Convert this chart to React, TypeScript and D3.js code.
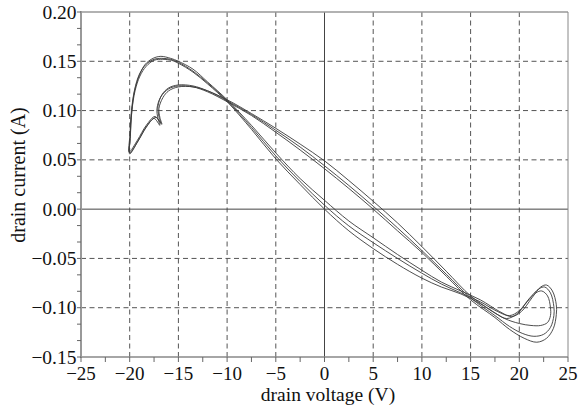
import React from "react";
import * as d3 from "d3";

const W = 588;
const H = 409;

const xTicks = [-25, -20, -15, -10, -5, 0, 5, 10, 15, 20, 25];
const yTicks = [-0.15, -0.1, -0.05, 0.0, 0.05, 0.1, 0.15, 0.2];
const xLabel = "drain voltage (V)";
const yLabel = "drain current (A)";

// Each loop: [drain voltage (V), drain current (A)]
const loop1: [number, number][] = [
  [-20.0, 0.056], [-19.95, 0.072], [-19.8, 0.098], [-19.5, 0.12], [-19.0, 0.136], [-18.4, 0.147],
  [-17.6, 0.153], [-16.8, 0.155], [-15.8, 0.153], [-15.0, 0.15], [-13.5, 0.142], [-12.0, 0.129],
  [-10.0, 0.111], [-7.5, 0.085], [-5.0, 0.057], [-2.5, 0.031], [0, 0.009], [2.5, -0.012],
  [5, -0.029], [7.5, -0.046], [10, -0.062], [12, -0.074], [14, -0.083], [16, -0.092],
  [18, -0.104], [19.2, -0.109], [20.2, -0.104], [21.3, -0.09], [22.2, -0.079], [22.8, -0.077],
  [23.4, -0.083], [23.8, -0.097],
  [23.8, -0.107], [23.5, -0.121], [22.8, -0.131], [21.8, -0.135], [20.5, -0.131], [19.0, -0.122],
  [17.5, -0.11], [15.0, -0.092], [12.5, -0.068], [10, -0.044], [7.5, -0.022], [5, 0.0],
  [2.5, 0.021], [0, 0.041], [-2.5, 0.06], [-5, 0.078], [-7.5, 0.095], [-10, 0.109],
  [-12, 0.119], [-13.5, 0.124], [-15, 0.125], [-16, 0.122], [-16.8, 0.114], [-17.2, 0.102],
  [-17.1, 0.092], [-16.9, 0.085], [-17.5, 0.092], [-18.3, 0.083], [-19.2, 0.068],
];

const loop2: [number, number][] = [
  [-20.05, 0.058], [-19.98, 0.075], [-19.82, 0.1], [-19.5, 0.121], [-19.0, 0.137], [-18.3, 0.147],
  [-17.5, 0.152], [-16.7, 0.153], [-15.8, 0.152], [-15.0, 0.149], [-13.5, 0.14], [-12.0, 0.128],
  [-10.0, 0.11], [-7.5, 0.083], [-5.0, 0.054], [-2.5, 0.028], [0, 0.004], [2.5, -0.017],
  [5, -0.034], [7.5, -0.05], [10, -0.065], [12, -0.076], [14, -0.085], [16, -0.094],
  [17.8, -0.104], [19.0, -0.108], [20.0, -0.103], [21.0, -0.091], [22.0, -0.081], [22.6, -0.079],
  [23.2, -0.085], [23.55, -0.099],
  [23.55, -0.108], [23.2, -0.12], [22.5, -0.127], [21.5, -0.129], [20.3, -0.126], [19.0, -0.119],
  [17.5, -0.108], [15, -0.09], [12.5, -0.066], [10, -0.042], [7.5, -0.019], [5, 0.003],
  [2.5, 0.024], [0, 0.044], [-2.5, 0.063], [-5, 0.08], [-7.5, 0.096], [-10, 0.11],
  [-12, 0.12], [-13.5, 0.125], [-15, 0.126], [-16, 0.123], [-16.7, 0.116], [-17.1, 0.104],
  [-17.0, 0.094], [-16.8, 0.087], [-17.4, 0.094], [-18.3, 0.085], [-19.2, 0.07],
];

const loop3: [number, number][] = [
  [-20.0, 0.057], [-19.93, 0.074], [-19.78, 0.099], [-19.45, 0.12], [-18.95, 0.135], [-18.3, 0.145],
  [-17.5, 0.151], [-16.6, 0.152], [-15.7, 0.151], [-15, 0.148], [-13.5, 0.139], [-12, 0.127],
  [-10, 0.109], [-7.5, 0.081], [-5, 0.051], [-2.5, 0.025], [0, 0.0], [2.5, -0.022],
  [5, -0.04], [7.5, -0.056], [10, -0.07], [12, -0.079], [14, -0.086], [16, -0.096],
  [17.6, -0.106], [18.7, -0.111], [19.8, -0.106], [20.8, -0.094], [21.7, -0.085], [22.3, -0.083],
  [22.9, -0.088], [23.2, -0.1],
  [23.2, -0.108], [22.9, -0.115], [22.2, -0.118], [21.2, -0.118], [20.0, -0.116], [18.5, -0.111],
  [17.0, -0.102], [15, -0.088], [12.5, -0.063], [10, -0.038], [7.5, -0.014], [5, 0.008],
  [2.5, 0.029], [0, 0.049], [-2.5, 0.066], [-5, 0.082], [-7.5, 0.097], [-10, 0.111],
  [-12, 0.12], [-13.5, 0.124], [-15, 0.124], [-16, 0.12], [-16.6, 0.113], [-17.0, 0.102],
  [-16.9, 0.093], [-16.7, 0.086], [-17.3, 0.093], [-18.2, 0.085], [-19.1, 0.07],
];

const loops = [loop1, loop2, loop3];

export default function App() {
  const left = 81, right = 568, top = 12, bottom = 357;
  const x = d3.scaleLinear().domain([-25, 25]).range([left, right]);
  const y = d3.scaleLinear().domain([-0.15, 0.2]).range([bottom, top]);

  const line = d3
    .line<[number, number]>()
    .x((d) => x(d[0]))
    .y((d) => y(d[1]))
    .curve(d3.curveCatmullRomClosed.alpha(0.5));

  const xMinor = d3.range(-25, 25.01, 2.5);
  const yMinor = d3.range(0, 22).map((k) => -0.15 + (k * 0.05) / 3);
  const font = "'Liberation Serif', 'Times New Roman', serif";
  const fmtY = (v: number) => {
    const s = Math.abs(v).toFixed(2);
    return v < -1e-9 ? "\u2212" + s : s;
  };
  const fmtX = (v: number) => (v < 0 ? "\u2212" + Math.abs(v) : String(v));

  return (
    <svg
      width={W}
      height={H}
      style={{ position: "absolute", left: 0, top: 0, background: "#fff" }}
    >
      {/* grid */}
      {xTicks
        .filter((t) => t !== 0 && t !== -25 && t !== 25)
        .map((t) => (
          <line key={"gx" + t} x1={x(t)} x2={x(t)} y1={top} y2={bottom} stroke="#555" strokeWidth={1} strokeDasharray="5,3.5" />
        ))}
      {yTicks
        .filter((t) => Math.abs(t) > 1e-9 && t !== -0.15 && t !== 0.2)
        .map((t) => (
          <line key={"gy" + t} x1={left} x2={right} y1={y(t)} y2={y(t)} stroke="#555" strokeWidth={1} strokeDasharray="5,3.5" />
        ))}
      {/* zero lines */}
      <line x1={x(0)} x2={x(0)} y1={top} y2={bottom} stroke="#444" strokeWidth={1} />
      <line x1={left} x2={right} y1={y(0)} y2={y(0)} stroke="#444" strokeWidth={1} />
      {/* frame */}
      <line x1={left} x2={right} y1={top} y2={top} stroke="#999" strokeWidth={1.5} />
      <line x1={right} x2={right} y1={top} y2={bottom} stroke="#888" strokeWidth={1} />
      <line x1={left} x2={right} y1={bottom} y2={bottom} stroke="#888" strokeWidth={1.5} />
      <line x1={left} x2={left} y1={top - 1} y2={bottom + 1} stroke="#999" strokeWidth={2} />
      {/* ticks */}
      {xMinor.map((t, i) => (
        <line key={"tx" + i} x1={x(t)} x2={x(t)} y1={bottom} y2={bottom + 5} stroke="#666" strokeWidth={1} />
      ))}
      {yMinor.map((t, i) => (
        <line key={"ty" + i} x1={left - 4} x2={left} y1={y(t)} y2={y(t)} stroke="#666" strokeWidth={1} />
      ))}
      {/* data */}
      {loops.map((l, i) => (
        <path key={"loop" + i} d={line(l) || ""} fill="none" stroke="#3a3a3a" strokeWidth={0.9} />
      ))}
      {/* tick labels */}
      {xTicks.map((t) => (
        <text key={"lx" + t} x={x(t)} y={379.5} textAnchor="middle" fontFamily={font} fontSize={19} fill="#111">
          {fmtX(t)}
        </text>
      ))}
      {yTicks.map((t) => (
        <text key={"ly" + t} x={left - 4.5} y={y(t) + 6.5} textAnchor="end" fontFamily={font} fontSize={19.5} fill="#111">
          {fmtY(t)}
        </text>
      ))}
      {/* axis titles */}
      <text x={328} y={401} textAnchor="middle" fontFamily={font} fontSize={19.5} fill="#111">
        {xLabel}
      </text>
      <text
        transform={`translate(25,175) rotate(-90)`}
        textAnchor="middle"
        fontFamily={font}
        fontSize={20}
        fill="#111"
      >
        {yLabel}
      </text>
    </svg>
  );
}
